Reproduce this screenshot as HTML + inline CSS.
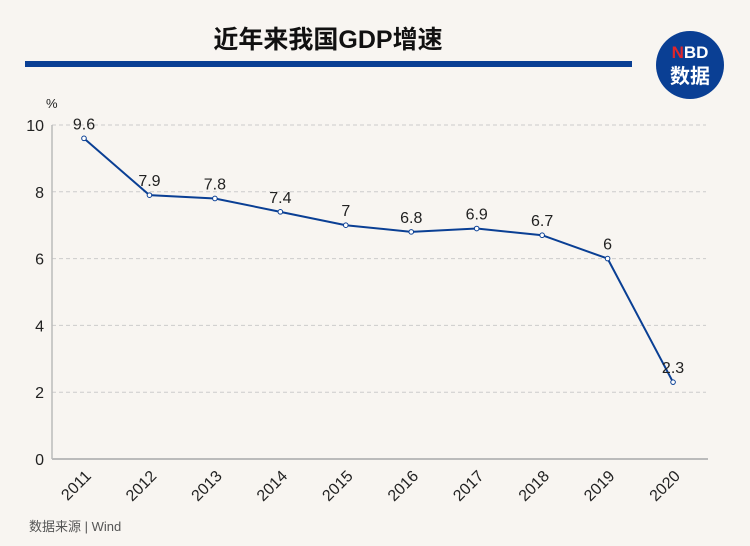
<!DOCTYPE html>
<html><head><meta charset="utf-8"><style>
body{margin:0;background:#f8f5f1;}
svg{display:block;font-family:"Liberation Sans","Noto Sans CJK SC",sans-serif;}
</style></head><body>
<svg id="c" width="750" height="546">
<rect width="750" height="546" fill="#f8f5f1"/>
<text x="328" y="48" text-anchor="middle" font-size="25" font-weight="bold" fill="#111">近年来我国GDP增速</text>
<rect x="25" y="61" width="607" height="6" fill="#0a3f94"/>
<g>
<circle cx="690" cy="65" r="34" fill="#0a3f94"/>
<text x="690" y="58" text-anchor="middle" font-size="17" font-weight="bold" fill="#fff"><tspan fill="#e0262b">N</tspan>BD</text>
<text x="690" y="83" text-anchor="middle" font-size="20" font-weight="bold" fill="#fff">数据</text>
</g>
<text x="46" y="108" font-size="13" fill="#222">%</text>
<g id="grid"></g>
<line x1="52" y1="125" x2="52" y2="459" stroke="#bbb" stroke-width="1.5"/>
<line x1="52" y1="459" x2="708" y2="459" stroke="#bbb" stroke-width="2"/>
<g id="marks"></g>
<text x="29" y="531" font-size="13" fill="#555">数据来源 | Wind</text>
</svg>
<script>
const categories=["2011","2012","2013","2014","2015","2016","2017","2018","2019","2020"];
const values=[9.6,7.9,7.8,7.4,7,6.8,6.9,6.7,6,2.3];
const valueLabels=["9.6","7.9","7.8","7.4","7","6.8","6.9","6.7","6","2.3"];
const yTicks=[0,2,4,6,8,10];
const NS="http://www.w3.org/2000/svg";
const x=i=>84+i*65.45;
const y=v=>459-v*33.4;
function mk(t,a,p){const e=document.createElementNS(NS,t);for(const k in a)e.setAttribute(k,a[k]);p.appendChild(e);return e;}
const grid=document.getElementById('grid'),marks=document.getElementById('marks');
yTicks.forEach(t=>{
 if(t>0){const l=mk('line',{x1:52,x2:706,y1:y(t),y2:y(t),stroke:'#ccc','stroke-dasharray':'4,3'},grid);
 
 }
 const tx=mk('text',{x:44,y:y(t)+6,'text-anchor':'end','font-size':16,fill:'#222'},grid);tx.textContent=t;
 
 
});
const pl=mk('polyline',{points:values.map((v,i)=>x(i)+','+y(v)).join(' '),fill:'none',stroke:'#0a3f94','stroke-width':2},marks);


values.forEach((v,i)=>{
 const c=mk('circle',{cx:x(i),cy:y(v),r:2.3,fill:'#fff',stroke:'#0a3f94','stroke-width':1},marks);
 
 
 const t=mk('text',{x:x(i),y:y(v)-9,'text-anchor':'middle','font-size':16,fill:'#222'},marks);t.textContent=valueLabels[i];
 
 
 const xl=mk('text',{x:x(i)+8,y:477,'text-anchor':'end','font-size':16,fill:'#222',transform:`rotate(-45 ${x(i)+8} 477)`},marks);xl.textContent=categories[i];
 
 
});
</script>
</body></html>
